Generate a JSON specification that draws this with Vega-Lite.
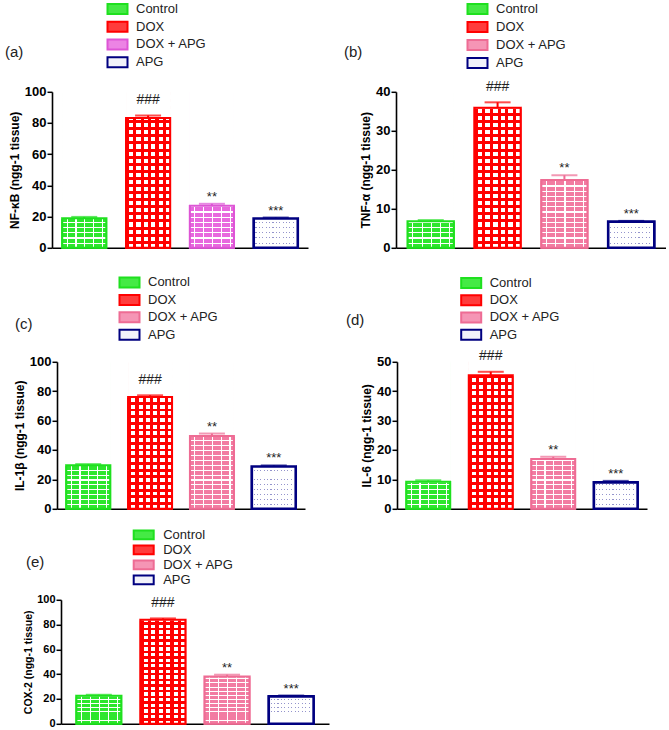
{
"$schema": "https://vega.github.io/schema/vega-lite/v6.json",
"padding": {"left": 5, "top": 1.8, "right": 0, "bottom": 0},
"background": "white",
"datasets": {
"a": [
{"group": "Control", "mean": 19.0, "upper": 19.8, "sig": ""},
{"group": "DOX", "mean": 83.2, "upper": 84.8, "sig": "###"},
{"group": "DOX + APG", "mean": 27.0, "upper": 28.2, "sig": "**"},
{"group": "APG", "mean": 18.8, "upper": 19.4, "sig": "***"}],
"b": [
{"group": "Control", "mean": 6.8, "upper": 7.1, "sig": ""},
{"group": "DOX", "mean": 35.9, "upper": 37.3, "sig": "###"},
{"group": "DOX + APG", "mean": 17.4, "upper": 18.6, "sig": "**"},
{"group": "APG", "mean": 6.7, "upper": 6.9, "sig": "***"}],
"c": [
{"group": "Control", "mean": 29.7, "upper": 30.4, "sig": ""},
{"group": "DOX", "mean": 76.0, "upper": 77.2, "sig": "###"},
{"group": "DOX + APG", "mean": 49.5, "upper": 51.2, "sig": "**"},
{"group": "APG", "mean": 28.8, "upper": 29.5, "sig": "***"}],
"d": [
{"group": "Control", "mean": 9.2, "upper": 9.7, "sig": ""},
{"group": "DOX", "mean": 45.4, "upper": 46.6, "sig": "###"},
{"group": "DOX + APG", "mean": 16.9, "upper": 17.7, "sig": "**"},
{"group": "APG", "mean": 9.0, "upper": 9.5, "sig": "***"}],
"e": [
{"group": "Control", "mean": 22.7, "upper": 23.4, "sig": ""},
{"group": "DOX", "mean": 84.0, "upper": 85.0, "sig": "###"},
{"group": "DOX + APG", "mean": 38.1, "upper": 39.6, "sig": "**"},
{"group": "APG", "mean": 22.1, "upper": 22.8, "sig": "***"}]
},
"spacing": 12,
"resolve": {"scale": {"fill": "independent", "stroke": "independent", "x": "independent", "y": "independent"}},
"vconcat": [
{
"spacing": 21,
"resolve": {"scale": {"fill": "independent", "stroke": "independent", "x": "independent", "y": "independent"}},
"vconcat": [
{
"spacing": 36,
"resolve": {"scale": {"fill": "independent", "stroke": "independent", "x": "independent", "y": "independent"}},
"hconcat": [
{
"width": 256, "height": 156,
"data": {"name": "a"},
"title": {"text": "(a)", "dx": -47, "dy": 61.9},
"encoding": {"x": {"field": "group", "type": "nominal", "sort": null, "scale": {"paddingInner": 0.31, "paddingOuter": 0.16}, "axis": {"title": null, "labels": false, "ticks": false}}},
"layer": [
{"mark": {"type": "bar", "strokeWidth": 2},
"encoding": {
"y": {"field": "mean", "type": "quantitative", "stack": null, "scale": {"domain": [0, 100], "nice": false}, "axis": {"title": "NF-κB (ngg-1 tissue)", "values": [0, 20, 40, 60, 80, 100], "tickCount": 12, "labelOverlap": false}},
"fill": {"field": "group", "type": "nominal", "scale": {"domain": ["Control", "DOX", "DOX + APG", "APG"], "range": ["#45ea45", "#ff3c3c", "#ec84e4", "#f2f2fa"]}, "legend": {"title": null, "orient": "none", "legendX": 59, "legendY": -89.2, "direction": "vertical", "symbolType": "M-2,-1H2V1H-2Z", "symbolSize": 100, "symbolStrokeWidth": 2, "symbolOpacity": 1, "rowPadding": -1.3, "labelOffset": 12, "labelFont": "Liberation Sans", "labelFontSize": 13, "labelColor": "#222", "padding": 0}},
"stroke": {"field": "group", "type": "nominal", "scale": {"domain": ["Control", "DOX", "DOX + APG", "APG"], "range": ["#1fe01f", "#ff0000", "#dd55d5", "#000080"]}, "legend": {"title": null, "orient": "none", "legendX": 59, "legendY": -89.2, "direction": "vertical", "symbolType": "M-2,-1H2V1H-2Z", "symbolSize": 100, "symbolStrokeWidth": 2, "symbolOpacity": 1, "rowPadding": -1.3, "labelOffset": 12, "labelFont": "Liberation Sans", "labelFontSize": 13, "labelColor": "#222", "padding": 0}}
}},
{"mark": {"type": "bar"}, "encoding": {"y": {"datum": 100, "type": "quantitative"}, "y2": {"datum": 0}, "fill": {"condition": [{"test": "datum.group==='Control'", "value": "#2ee62e"}, {"test": "datum.group==='DOX'", "value": "#ffffff"}, {"test": "datum.group==='DOX + APG'", "value": "#e868de"}], "value": "#9494cc"}}},
{"transform": [{"filter": "datum.group==='Control' || datum.group==='DOX + APG'"}], "mark": {"type": "bar", "fill": {"id": "hwgrad", "gradient": "linear", "x1": 0, "y1": 0, "x2": 0, "y2": 1, "stops": [
{"offset":0,"color":"#fff"},{"offset":0.0075,"color":"#fff"},{"offset":0.0075,"color":"transparent"},{"offset":0.0333,"color":"transparent"},
{"offset":0.0333,"color":"#fff"},{"offset":0.0408,"color":"#fff"},{"offset":0.0408,"color":"transparent"},{"offset":0.0667,"color":"transparent"},
{"offset":0.0667,"color":"#fff"},{"offset":0.0742,"color":"#fff"},{"offset":0.0742,"color":"transparent"},{"offset":0.1,"color":"transparent"},
{"offset":0.1,"color":"#fff"},{"offset":0.1075,"color":"#fff"},{"offset":0.1075,"color":"transparent"},{"offset":0.1333,"color":"transparent"},
{"offset":0.1333,"color":"#fff"},{"offset":0.1408,"color":"#fff"},{"offset":0.1408,"color":"transparent"},{"offset":0.1667,"color":"transparent"},
{"offset":0.1667,"color":"#fff"},{"offset":0.1742,"color":"#fff"},{"offset":0.1742,"color":"transparent"},{"offset":0.2,"color":"transparent"},
{"offset":0.2,"color":"#fff"},{"offset":0.2075,"color":"#fff"},{"offset":0.2075,"color":"transparent"},{"offset":0.2333,"color":"transparent"},
{"offset":0.2333,"color":"#fff"},{"offset":0.2408,"color":"#fff"},{"offset":0.2408,"color":"transparent"},{"offset":0.2667,"color":"transparent"},
{"offset":0.2667,"color":"#fff"},{"offset":0.2742,"color":"#fff"},{"offset":0.2742,"color":"transparent"},{"offset":0.3,"color":"transparent"},
{"offset":0.3,"color":"#fff"},{"offset":0.3075,"color":"#fff"},{"offset":0.3075,"color":"transparent"},{"offset":0.3333,"color":"transparent"},
{"offset":0.3333,"color":"#fff"},{"offset":0.3408,"color":"#fff"},{"offset":0.3408,"color":"transparent"},{"offset":0.3667,"color":"transparent"},
{"offset":0.3667,"color":"#fff"},{"offset":0.3742,"color":"#fff"},{"offset":0.3742,"color":"transparent"},{"offset":0.4,"color":"transparent"},
{"offset":0.4,"color":"#fff"},{"offset":0.4075,"color":"#fff"},{"offset":0.4075,"color":"transparent"},{"offset":0.4333,"color":"transparent"},
{"offset":0.4333,"color":"#fff"},{"offset":0.4408,"color":"#fff"},{"offset":0.4408,"color":"transparent"},{"offset":0.4667,"color":"transparent"},
{"offset":0.4667,"color":"#fff"},{"offset":0.4742,"color":"#fff"},{"offset":0.4742,"color":"transparent"},{"offset":0.5,"color":"transparent"},
{"offset":0.5,"color":"#fff"},{"offset":0.5075,"color":"#fff"},{"offset":0.5075,"color":"transparent"},{"offset":0.5333,"color":"transparent"},
{"offset":0.5333,"color":"#fff"},{"offset":0.5408,"color":"#fff"},{"offset":0.5408,"color":"transparent"},{"offset":0.5667,"color":"transparent"},
{"offset":0.5667,"color":"#fff"},{"offset":0.5742,"color":"#fff"},{"offset":0.5742,"color":"transparent"},{"offset":0.6,"color":"transparent"},
{"offset":0.6,"color":"#fff"},{"offset":0.6075,"color":"#fff"},{"offset":0.6075,"color":"transparent"},{"offset":0.6333,"color":"transparent"},
{"offset":0.6333,"color":"#fff"},{"offset":0.6408,"color":"#fff"},{"offset":0.6408,"color":"transparent"},{"offset":0.6667,"color":"transparent"},
{"offset":0.6667,"color":"#fff"},{"offset":0.6742,"color":"#fff"},{"offset":0.6742,"color":"transparent"},{"offset":0.7,"color":"transparent"},
{"offset":0.7,"color":"#fff"},{"offset":0.7075,"color":"#fff"},{"offset":0.7075,"color":"transparent"},{"offset":0.7333,"color":"transparent"},
{"offset":0.7333,"color":"#fff"},{"offset":0.7408,"color":"#fff"},{"offset":0.7408,"color":"transparent"},{"offset":0.7667,"color":"transparent"},
{"offset":0.7667,"color":"#fff"},{"offset":0.7742,"color":"#fff"},{"offset":0.7742,"color":"transparent"},{"offset":0.8,"color":"transparent"},
{"offset":0.8,"color":"#fff"},{"offset":0.8075,"color":"#fff"},{"offset":0.8075,"color":"transparent"},{"offset":0.8333,"color":"transparent"},
{"offset":0.8333,"color":"#fff"},{"offset":0.8408,"color":"#fff"},{"offset":0.8408,"color":"transparent"},{"offset":0.8667,"color":"transparent"},
{"offset":0.8667,"color":"#fff"},{"offset":0.8742,"color":"#fff"},{"offset":0.8742,"color":"transparent"},{"offset":0.9,"color":"transparent"},
{"offset":0.9,"color":"#fff"},{"offset":0.9075,"color":"#fff"},{"offset":0.9075,"color":"transparent"},{"offset":0.9333,"color":"transparent"},
{"offset":0.9333,"color":"#fff"},{"offset":0.9408,"color":"#fff"},{"offset":0.9408,"color":"transparent"},{"offset":0.9667,"color":"transparent"},
{"offset":0.9667,"color":"#fff"},{"offset":0.9742,"color":"#fff"},{"offset":0.9742,"color":"transparent"}
]}}, "encoding": {"y": {"datum": 100, "type": "quantitative"}, "y2": {"datum": 0}}},
{"transform": [{"filter": "datum.group==='Control' || datum.group==='DOX + APG'"}], "mark": {"type": "bar", "fill": {"id": "vwgrad", "gradient": "linear", "x1": 0, "y1": 0, "x2": 1, "y2": 0, "stops": [
{"offset":0,"color":"transparent"},{"offset":0.1,"color":"transparent"},{"offset":0.1,"color":"#fff"},{"offset":0.125,"color":"#fff"},{"offset":0.125,"color":"transparent"},
{"offset":0.3,"color":"transparent"},{"offset":0.3,"color":"#fff"},{"offset":0.325,"color":"#fff"},{"offset":0.325,"color":"transparent"},
{"offset":0.5,"color":"transparent"},{"offset":0.5,"color":"#fff"},{"offset":0.525,"color":"#fff"},{"offset":0.525,"color":"transparent"},
{"offset":0.7,"color":"transparent"},{"offset":0.7,"color":"#fff"},{"offset":0.725,"color":"#fff"},{"offset":0.725,"color":"transparent"},
{"offset":0.9,"color":"transparent"},{"offset":0.9,"color":"#fff"},{"offset":0.925,"color":"#fff"},{"offset":0.925,"color":"transparent"}
]}}, "encoding": {"y": {"datum": 100, "type": "quantitative"}, "y2": {"datum": 0}}},
{"transform": [{"filter": "datum.group==='DOX'"}], "mark": {"type": "bar", "fill": {"id": "hrgrad", "gradient": "linear", "x1": 0, "y1": 0, "x2": 0, "y2": 1, "stops": [
{"offset":0,"color":"#f00"},{"offset":0.0191,"color":"#f00"},{"offset":0.0191,"color":"transparent"},{"offset":0.0455,"color":"transparent"},
{"offset":0.0455,"color":"#f00"},{"offset":0.0646,"color":"#f00"},{"offset":0.0646,"color":"transparent"},{"offset":0.0909,"color":"transparent"},
{"offset":0.0909,"color":"#f00"},{"offset":0.11,"color":"#f00"},{"offset":0.11,"color":"transparent"},{"offset":0.1364,"color":"transparent"},
{"offset":0.1364,"color":"#f00"},{"offset":0.1555,"color":"#f00"},{"offset":0.1555,"color":"transparent"},{"offset":0.1818,"color":"transparent"},
{"offset":0.1818,"color":"#f00"},{"offset":0.2009,"color":"#f00"},{"offset":0.2009,"color":"transparent"},{"offset":0.2273,"color":"transparent"},
{"offset":0.2273,"color":"#f00"},{"offset":0.2464,"color":"#f00"},{"offset":0.2464,"color":"transparent"},{"offset":0.2727,"color":"transparent"},
{"offset":0.2727,"color":"#f00"},{"offset":0.2918,"color":"#f00"},{"offset":0.2918,"color":"transparent"},{"offset":0.3182,"color":"transparent"},
{"offset":0.3182,"color":"#f00"},{"offset":0.3373,"color":"#f00"},{"offset":0.3373,"color":"transparent"},{"offset":0.3636,"color":"transparent"},
{"offset":0.3636,"color":"#f00"},{"offset":0.3827,"color":"#f00"},{"offset":0.3827,"color":"transparent"},{"offset":0.4091,"color":"transparent"},
{"offset":0.4091,"color":"#f00"},{"offset":0.4282,"color":"#f00"},{"offset":0.4282,"color":"transparent"},{"offset":0.4545,"color":"transparent"},
{"offset":0.4545,"color":"#f00"},{"offset":0.4736,"color":"#f00"},{"offset":0.4736,"color":"transparent"},{"offset":0.5,"color":"transparent"},
{"offset":0.5,"color":"#f00"},{"offset":0.5191,"color":"#f00"},{"offset":0.5191,"color":"transparent"},{"offset":0.5455,"color":"transparent"},
{"offset":0.5455,"color":"#f00"},{"offset":0.5646,"color":"#f00"},{"offset":0.5646,"color":"transparent"},{"offset":0.5909,"color":"transparent"},
{"offset":0.5909,"color":"#f00"},{"offset":0.61,"color":"#f00"},{"offset":0.61,"color":"transparent"},{"offset":0.6364,"color":"transparent"},
{"offset":0.6364,"color":"#f00"},{"offset":0.6555,"color":"#f00"},{"offset":0.6555,"color":"transparent"},{"offset":0.6818,"color":"transparent"},
{"offset":0.6818,"color":"#f00"},{"offset":0.7009,"color":"#f00"},{"offset":0.7009,"color":"transparent"},{"offset":0.7273,"color":"transparent"},
{"offset":0.7273,"color":"#f00"},{"offset":0.7464,"color":"#f00"},{"offset":0.7464,"color":"transparent"},{"offset":0.7727,"color":"transparent"},
{"offset":0.7727,"color":"#f00"},{"offset":0.7918,"color":"#f00"},{"offset":0.7918,"color":"transparent"},{"offset":0.8182,"color":"transparent"},
{"offset":0.8182,"color":"#f00"},{"offset":0.8373,"color":"#f00"},{"offset":0.8373,"color":"transparent"},{"offset":0.8636,"color":"transparent"},
{"offset":0.8636,"color":"#f00"},{"offset":0.8827,"color":"#f00"},{"offset":0.8827,"color":"transparent"},{"offset":0.9091,"color":"transparent"},
{"offset":0.9091,"color":"#f00"},{"offset":0.9282,"color":"#f00"},{"offset":0.9282,"color":"transparent"},{"offset":0.9545,"color":"transparent"},
{"offset":0.9545,"color":"#f00"},{"offset":0.9736,"color":"#f00"},{"offset":0.9736,"color":"transparent"}
]}}, "encoding": {"y": {"datum": 100, "type": "quantitative"}, "y2": {"datum": 0}}},
{"transform": [{"filter": "datum.group==='DOX'"}], "mark": {"type": "bar", "fill": {"id": "vrgrad", "gradient": "linear", "x1": 0, "y1": 0, "x2": 1, "y2": 0, "stops": [
{"offset":0,"color":"#f00"},{"offset":0.07,"color":"#f00"},{"offset":0.07,"color":"transparent"},{"offset":0.1667,"color":"transparent"},
{"offset":0.1667,"color":"#f00"},{"offset":0.2367,"color":"#f00"},{"offset":0.2367,"color":"transparent"},{"offset":0.3333,"color":"transparent"},
{"offset":0.3333,"color":"#f00"},{"offset":0.4033,"color":"#f00"},{"offset":0.4033,"color":"transparent"},{"offset":0.5,"color":"transparent"},
{"offset":0.5,"color":"#f00"},{"offset":0.57,"color":"#f00"},{"offset":0.57,"color":"transparent"},{"offset":0.6667,"color":"transparent"},
{"offset":0.6667,"color":"#f00"},{"offset":0.7367,"color":"#f00"},{"offset":0.7367,"color":"transparent"},{"offset":0.8333,"color":"transparent"},
{"offset":0.8333,"color":"#f00"},{"offset":0.9033,"color":"#f00"},{"offset":0.9033,"color":"transparent"}
]}}, "encoding": {"y": {"datum": 100, "type": "quantitative"}, "y2": {"datum": 0}}},
{"transform": [{"filter": "datum.group==='APG'"}], "mark": {"type": "bar", "fill": {"id": "dhgrad", "gradient": "linear", "x1": 0, "y1": 0, "x2": 0, "y2": 1, "stops": [
{"offset":0,"color":"transparent"},{"offset":0.0067,"color":"transparent"},{"offset":0.0067,"color":"#fff"},{"offset":0.0333,"color":"#fff"},
{"offset":0.0333,"color":"transparent"},{"offset":0.04,"color":"transparent"},{"offset":0.04,"color":"#fff"},{"offset":0.0667,"color":"#fff"},
{"offset":0.0667,"color":"transparent"},{"offset":0.0734,"color":"transparent"},{"offset":0.0734,"color":"#fff"},{"offset":0.1,"color":"#fff"},
{"offset":0.1,"color":"transparent"},{"offset":0.1067,"color":"transparent"},{"offset":0.1067,"color":"#fff"},{"offset":0.1333,"color":"#fff"},
{"offset":0.1333,"color":"transparent"},{"offset":0.14,"color":"transparent"},{"offset":0.14,"color":"#fff"},{"offset":0.1667,"color":"#fff"},
{"offset":0.1667,"color":"transparent"},{"offset":0.1734,"color":"transparent"},{"offset":0.1734,"color":"#fff"},{"offset":0.2,"color":"#fff"},
{"offset":0.2,"color":"transparent"},{"offset":0.2067,"color":"transparent"},{"offset":0.2067,"color":"#fff"},{"offset":0.2333,"color":"#fff"},
{"offset":0.2333,"color":"transparent"},{"offset":0.24,"color":"transparent"},{"offset":0.24,"color":"#fff"},{"offset":0.2667,"color":"#fff"},
{"offset":0.2667,"color":"transparent"},{"offset":0.2734,"color":"transparent"},{"offset":0.2734,"color":"#fff"},{"offset":0.3,"color":"#fff"},
{"offset":0.3,"color":"transparent"},{"offset":0.3067,"color":"transparent"},{"offset":0.3067,"color":"#fff"},{"offset":0.3333,"color":"#fff"},
{"offset":0.3333,"color":"transparent"},{"offset":0.34,"color":"transparent"},{"offset":0.34,"color":"#fff"},{"offset":0.3667,"color":"#fff"},
{"offset":0.3667,"color":"transparent"},{"offset":0.3734,"color":"transparent"},{"offset":0.3734,"color":"#fff"},{"offset":0.4,"color":"#fff"},
{"offset":0.4,"color":"transparent"},{"offset":0.4067,"color":"transparent"},{"offset":0.4067,"color":"#fff"},{"offset":0.4333,"color":"#fff"},
{"offset":0.4333,"color":"transparent"},{"offset":0.44,"color":"transparent"},{"offset":0.44,"color":"#fff"},{"offset":0.4667,"color":"#fff"},
{"offset":0.4667,"color":"transparent"},{"offset":0.4734,"color":"transparent"},{"offset":0.4734,"color":"#fff"},{"offset":0.5,"color":"#fff"},
{"offset":0.5,"color":"transparent"},{"offset":0.5067,"color":"transparent"},{"offset":0.5067,"color":"#fff"},{"offset":0.5333,"color":"#fff"},
{"offset":0.5333,"color":"transparent"},{"offset":0.54,"color":"transparent"},{"offset":0.54,"color":"#fff"},{"offset":0.5667,"color":"#fff"},
{"offset":0.5667,"color":"transparent"},{"offset":0.5734,"color":"transparent"},{"offset":0.5734,"color":"#fff"},{"offset":0.6,"color":"#fff"},
{"offset":0.6,"color":"transparent"},{"offset":0.6067,"color":"transparent"},{"offset":0.6067,"color":"#fff"},{"offset":0.6333,"color":"#fff"},
{"offset":0.6333,"color":"transparent"},{"offset":0.64,"color":"transparent"},{"offset":0.64,"color":"#fff"},{"offset":0.6667,"color":"#fff"},
{"offset":0.6667,"color":"transparent"},{"offset":0.6734,"color":"transparent"},{"offset":0.6734,"color":"#fff"},{"offset":0.7,"color":"#fff"},
{"offset":0.7,"color":"transparent"},{"offset":0.7067,"color":"transparent"},{"offset":0.7067,"color":"#fff"},{"offset":0.7333,"color":"#fff"},
{"offset":0.7333,"color":"transparent"},{"offset":0.74,"color":"transparent"},{"offset":0.74,"color":"#fff"},{"offset":0.7667,"color":"#fff"},
{"offset":0.7667,"color":"transparent"},{"offset":0.7734,"color":"transparent"},{"offset":0.7734,"color":"#fff"},{"offset":0.8,"color":"#fff"},
{"offset":0.8,"color":"transparent"},{"offset":0.8067,"color":"transparent"},{"offset":0.8067,"color":"#fff"},{"offset":0.8333,"color":"#fff"},
{"offset":0.8333,"color":"transparent"},{"offset":0.84,"color":"transparent"},{"offset":0.84,"color":"#fff"},{"offset":0.8667,"color":"#fff"},
{"offset":0.8667,"color":"transparent"},{"offset":0.8734,"color":"transparent"},{"offset":0.8734,"color":"#fff"},{"offset":0.9,"color":"#fff"},
{"offset":0.9,"color":"transparent"},{"offset":0.9067,"color":"transparent"},{"offset":0.9067,"color":"#fff"},{"offset":0.9333,"color":"#fff"},
{"offset":0.9333,"color":"transparent"},{"offset":0.94,"color":"transparent"},{"offset":0.94,"color":"#fff"},{"offset":0.9667,"color":"#fff"},
{"offset":0.9667,"color":"transparent"},{"offset":0.9734,"color":"transparent"},{"offset":0.9734,"color":"#fff"},{"offset":1,"color":"#fff"}
]}}, "encoding": {"y": {"datum": 100, "type": "quantitative"}, "y2": {"datum": 0}}},
{"transform": [{"filter": "datum.group==='APG'"}], "mark": {"type": "bar", "fill": {"id": "dvgrad", "gradient": "linear", "x1": 0, "y1": 0, "x2": 1, "y2": 0, "stops": [
{"offset":0,"color":"#fff"},{"offset":0.04,"color":"#fff"},{"offset":0.04,"color":"transparent"},{"offset":0.065,"color":"transparent"},
{"offset":0.065,"color":"#fff"},{"offset":0.1169,"color":"#fff"},{"offset":0.1169,"color":"transparent"},{"offset":0.1419,"color":"transparent"},
{"offset":0.1419,"color":"#fff"},{"offset":0.1938,"color":"#fff"},{"offset":0.1938,"color":"transparent"},{"offset":0.2188,"color":"transparent"},
{"offset":0.2188,"color":"#fff"},{"offset":0.2708,"color":"#fff"},{"offset":0.2708,"color":"transparent"},{"offset":0.2958,"color":"transparent"},
{"offset":0.2958,"color":"#fff"},{"offset":0.3477,"color":"#fff"},{"offset":0.3477,"color":"transparent"},{"offset":0.3727,"color":"transparent"},
{"offset":0.3727,"color":"#fff"},{"offset":0.4246,"color":"#fff"},{"offset":0.4246,"color":"transparent"},{"offset":0.4496,"color":"transparent"},
{"offset":0.4496,"color":"#fff"},{"offset":0.5015,"color":"#fff"},{"offset":0.5015,"color":"transparent"},{"offset":0.5265,"color":"transparent"},
{"offset":0.5265,"color":"#fff"},{"offset":0.5785,"color":"#fff"},{"offset":0.5785,"color":"transparent"},{"offset":0.6035,"color":"transparent"},
{"offset":0.6035,"color":"#fff"},{"offset":0.6554,"color":"#fff"},{"offset":0.6554,"color":"transparent"},{"offset":0.6804,"color":"transparent"},
{"offset":0.6804,"color":"#fff"},{"offset":0.7323,"color":"#fff"},{"offset":0.7323,"color":"transparent"},{"offset":0.7573,"color":"transparent"},
{"offset":0.7573,"color":"#fff"},{"offset":0.8092,"color":"#fff"},{"offset":0.8092,"color":"transparent"},{"offset":0.8342,"color":"transparent"},
{"offset":0.8342,"color":"#fff"},{"offset":0.8862,"color":"#fff"},{"offset":0.8862,"color":"transparent"},{"offset":0.9112,"color":"transparent"},
{"offset":0.9112,"color":"#fff"},{"offset":1,"color":"#fff"}
]}}, "encoding": {"y": {"datum": 100, "type": "quantitative"}, "y2": {"datum": 0}}},
{"mark": {"type": "bar", "fill": "#ffffff", "stroke": "#ffffff", "strokeWidth": 1.5}, "encoding": {"y": {"field": "mean", "type": "quantitative"}, "y2": {"datum": 100}}},
{"mark": {"type": "bar", "fill": "transparent"}, "encoding": {"y": {"field": "mean", "type": "quantitative"}, "strokeWidth": {"condition": {"test": "datum.group==='APG'", "value": 2.6}, "value": 2}, "stroke": {"condition": [{"test": "datum.group==='Control'", "value": "#1fe01f"}, {"test": "datum.group==='DOX'", "value": "#ff0000"}, {"test": "datum.group==='DOX + APG'", "value": "#dd55d5"}], "value": "#000080"}}},
{"mark": {"type": "rule", "strokeWidth": 2}, "encoding": {"y": {"field": "mean", "type": "quantitative"}, "y2": {"field": "upper"}, "color": {"condition": [{"test": "datum.group==='Control'", "value": "#1fe01f"}, {"test": "datum.group==='DOX'", "value": "#ff0000"}, {"test": "datum.group==='DOX + APG'", "value": "#dd55d5"}], "value": "#000080"}}},
{"mark": {"type": "tick", "size": 26, "thickness": 2}, "encoding": {"y": {"field": "upper", "type": "quantitative"}, "color": {"condition": [{"test": "datum.group==='Control'", "value": "#1fe01f"}, {"test": "datum.group==='DOX'", "value": "#ff0000"}, {"test": "datum.group==='DOX + APG'", "value": "#dd55d5"}], "value": "#000080"}}},
{"transform": [{"filter": "datum.group==='DOX'"}], "mark": {"type": "text", "font": "Liberation Sans", "fontSize": 14, "color": "#222", "baseline": "alphabetic", "dy": -11.5}, "encoding": {"y": {"field": "upper", "type": "quantitative"}, "text": {"field": "sig"}}},
{"transform": [{"filter": "datum.group!=='DOX'"}], "mark": {"type": "text", "font": "Liberation Sans", "fontSize": 13, "color": "#222", "baseline": "alphabetic", "dy": -3}, "encoding": {"y": {"field": "upper", "type": "quantitative"}, "text": {"field": "sig"}}}
]
},
{
"width": 270, "height": 156,
"data": {"name": "b"},
"title": {"text": "(b)", "dx": -52, "dy": 61.2},
"encoding": {"x": {"field": "group", "type": "nominal", "sort": null, "scale": {"paddingInner": 0.31, "paddingOuter": 0.175}, "axis": {"title": null, "labels": false, "ticks": false}}},
"layer": [
{"mark": {"type": "bar", "strokeWidth": 2},
"encoding": {
"y": {"field": "mean", "type": "quantitative", "stack": null, "scale": {"domain": [0, 40], "nice": false}, "axis": {"title": "TNF-α (ngg-1 tissue)", "values": [0, 10, 20, 30, 40], "tickCount": 12, "labelOverlap": false}},
"fill": {"field": "group", "type": "nominal", "scale": {"domain": ["Control", "DOX", "DOX + APG", "APG"], "range": ["#45ea45", "#ff3c3c", "#f595b5", "#f2f2fa"]}, "legend": {"title": null, "orient": "none", "legendX": 75, "legendY": -89.2, "direction": "vertical", "symbolType": "M-2,-1H2V1H-2Z", "symbolSize": 100, "symbolStrokeWidth": 2, "symbolOpacity": 1, "rowPadding": -1.0, "labelOffset": 12, "labelFont": "Liberation Sans", "labelFontSize": 13, "labelColor": "#222", "padding": 0}},
"stroke": {"field": "group", "type": "nominal", "scale": {"domain": ["Control", "DOX", "DOX + APG", "APG"], "range": ["#1fe01f", "#ff0000", "#ee6c94", "#000080"]}, "legend": {"title": null, "orient": "none", "legendX": 75, "legendY": -89.2, "direction": "vertical", "symbolType": "M-2,-1H2V1H-2Z", "symbolSize": 100, "symbolStrokeWidth": 2, "symbolOpacity": 1, "rowPadding": -1.0, "labelOffset": 12, "labelFont": "Liberation Sans", "labelFontSize": 13, "labelColor": "#222", "padding": 0}}
}},
{"mark": {"type": "bar"}, "encoding": {"y": {"datum": 40, "type": "quantitative"}, "y2": {"datum": 0}, "fill": {"condition": [{"test": "datum.group==='Control'", "value": "#2ee62e"}, {"test": "datum.group==='DOX'", "value": "#ffffff"}, {"test": "datum.group==='DOX + APG'", "value": "#f27ca2"}], "value": "#9494cc"}}},
{"transform": [{"filter": "datum.group==='Control' || datum.group==='DOX + APG'"}], "mark": {"type": "bar", "fill": "url(#hwgrad)"}, "encoding": {"y": {"datum": 40, "type": "quantitative"}, "y2": {"datum": 0}}},
{"transform": [{"filter": "datum.group==='Control' || datum.group==='DOX + APG'"}], "mark": {"type": "bar", "fill": "url(#vwgrad)"}, "encoding": {"y": {"datum": 40, "type": "quantitative"}, "y2": {"datum": 0}}},
{"transform": [{"filter": "datum.group==='DOX'"}], "mark": {"type": "bar", "fill": "url(#hrgrad)"}, "encoding": {"y": {"datum": 40, "type": "quantitative"}, "y2": {"datum": 0}}},
{"transform": [{"filter": "datum.group==='DOX'"}], "mark": {"type": "bar", "fill": "url(#vrgrad)"}, "encoding": {"y": {"datum": 40, "type": "quantitative"}, "y2": {"datum": 0}}},
{"transform": [{"filter": "datum.group==='APG'"}], "mark": {"type": "bar", "fill": "url(#dhgrad)"}, "encoding": {"y": {"datum": 40, "type": "quantitative"}, "y2": {"datum": 0}}},
{"transform": [{"filter": "datum.group==='APG'"}], "mark": {"type": "bar", "fill": "url(#dvgrad)"}, "encoding": {"y": {"datum": 40, "type": "quantitative"}, "y2": {"datum": 0}}},
{"mark": {"type": "bar", "fill": "#ffffff", "stroke": "#ffffff", "strokeWidth": 1.5}, "encoding": {"y": {"field": "mean", "type": "quantitative"}, "y2": {"datum": 40}}},
{"mark": {"type": "bar", "fill": "transparent"}, "encoding": {"y": {"field": "mean", "type": "quantitative"}, "strokeWidth": {"condition": {"test": "datum.group==='APG'", "value": 2.6}, "value": 2}, "stroke": {"condition": [{"test": "datum.group==='Control'", "value": "#1fe01f"}, {"test": "datum.group==='DOX'", "value": "#ff0000"}, {"test": "datum.group==='DOX + APG'", "value": "#ee6c94"}], "value": "#000080"}}},
{"mark": {"type": "rule", "strokeWidth": 2}, "encoding": {"y": {"field": "mean", "type": "quantitative"}, "y2": {"field": "upper"}, "color": {"condition": [{"test": "datum.group==='Control'", "value": "#1fe01f"}, {"test": "datum.group==='DOX'", "value": "#ff0000"}, {"test": "datum.group==='DOX + APG'", "value": "#ee6c94"}], "value": "#000080"}}},
{"mark": {"type": "tick", "size": 26, "thickness": 2}, "encoding": {"y": {"field": "upper", "type": "quantitative"}, "color": {"condition": [{"test": "datum.group==='Control'", "value": "#1fe01f"}, {"test": "datum.group==='DOX'", "value": "#ff0000"}, {"test": "datum.group==='DOX + APG'", "value": "#ee6c94"}], "value": "#000080"}}},
{"transform": [{"filter": "datum.group==='DOX'"}], "mark": {"type": "text", "font": "Liberation Sans", "fontSize": 14, "color": "#222", "baseline": "alphabetic", "dy": -11.5}, "encoding": {"y": {"field": "upper", "type": "quantitative"}, "text": {"field": "sig"}}},
{"transform": [{"filter": "datum.group!=='DOX'"}], "mark": {"type": "text", "font": "Liberation Sans", "fontSize": 13, "color": "#222", "baseline": "alphabetic", "dy": -3}, "encoding": {"y": {"field": "upper", "type": "quantitative"}, "text": {"field": "sig"}}}
]
}
]
},
{
"spacing": -40,
"resolve": {"scale": {"fill": "independent", "stroke": "independent", "x": "independent", "y": "independent"}},
"hconcat": [
{"width": 1, "height": 1, "data": {"values": []}, "mark": "point"},
{
"spacing": 41,
"resolve": {"scale": {"fill": "independent", "stroke": "independent", "x": "independent", "y": "independent"}},
"hconcat": [
{
"width": 248, "height": 147,
"data": {"name": "c"},
"title": {"text": "(c)", "dx": -42, "dy": 59.8},
"encoding": {"x": {"field": "group", "type": "nominal", "sort": null, "scale": {"paddingInner": 0.29, "paddingOuter": 0.15}, "axis": {"title": null, "labels": false, "ticks": false}}},
"layer": [
{"mark": {"type": "bar", "strokeWidth": 2},
"encoding": {
"y": {"field": "mean", "type": "quantitative", "stack": null, "scale": {"domain": [0, 100], "nice": false}, "axis": {"title": "IL-1β (ngg-1 tissue)", "values": [0, 20, 40, 60, 80, 100], "tickCount": 12, "labelOverlap": false}},
"fill": {"field": "group", "type": "nominal", "scale": {"domain": ["Control", "DOX", "DOX + APG", "APG"], "range": ["#45ea45", "#ff3c3c", "#f595b5", "#f2f2fa"]}, "legend": {"title": null, "orient": "none", "legendX": 66, "legendY": -85.8, "direction": "vertical", "symbolType": "M-2,-1H2V1H-2Z", "symbolSize": 100, "symbolStrokeWidth": 2, "symbolOpacity": 1, "rowPadding": -1.6, "labelOffset": 12, "labelFont": "Liberation Sans", "labelFontSize": 13, "labelColor": "#222", "padding": 0}},
"stroke": {"field": "group", "type": "nominal", "scale": {"domain": ["Control", "DOX", "DOX + APG", "APG"], "range": ["#1fe01f", "#ff0000", "#ee6c94", "#000080"]}, "legend": {"title": null, "orient": "none", "legendX": 66, "legendY": -85.8, "direction": "vertical", "symbolType": "M-2,-1H2V1H-2Z", "symbolSize": 100, "symbolStrokeWidth": 2, "symbolOpacity": 1, "rowPadding": -1.6, "labelOffset": 12, "labelFont": "Liberation Sans", "labelFontSize": 13, "labelColor": "#222", "padding": 0}}
}},
{"mark": {"type": "bar"}, "encoding": {"y": {"datum": 100, "type": "quantitative"}, "y2": {"datum": 0}, "fill": {"condition": [{"test": "datum.group==='Control'", "value": "#2ee62e"}, {"test": "datum.group==='DOX'", "value": "#ffffff"}, {"test": "datum.group==='DOX + APG'", "value": "#f27ca2"}], "value": "#9494cc"}}},
{"transform": [{"filter": "datum.group==='Control' || datum.group==='DOX + APG'"}], "mark": {"type": "bar", "fill": "url(#hwgrad)"}, "encoding": {"y": {"datum": 100, "type": "quantitative"}, "y2": {"datum": 0}}},
{"transform": [{"filter": "datum.group==='Control' || datum.group==='DOX + APG'"}], "mark": {"type": "bar", "fill": "url(#vwgrad)"}, "encoding": {"y": {"datum": 100, "type": "quantitative"}, "y2": {"datum": 0}}},
{"transform": [{"filter": "datum.group==='DOX'"}], "mark": {"type": "bar", "fill": "url(#hrgrad)"}, "encoding": {"y": {"datum": 100, "type": "quantitative"}, "y2": {"datum": 0}}},
{"transform": [{"filter": "datum.group==='DOX'"}], "mark": {"type": "bar", "fill": "url(#vrgrad)"}, "encoding": {"y": {"datum": 100, "type": "quantitative"}, "y2": {"datum": 0}}},
{"transform": [{"filter": "datum.group==='APG'"}], "mark": {"type": "bar", "fill": "url(#dhgrad)"}, "encoding": {"y": {"datum": 100, "type": "quantitative"}, "y2": {"datum": 0}}},
{"transform": [{"filter": "datum.group==='APG'"}], "mark": {"type": "bar", "fill": "url(#dvgrad)"}, "encoding": {"y": {"datum": 100, "type": "quantitative"}, "y2": {"datum": 0}}},
{"mark": {"type": "bar", "fill": "#ffffff", "stroke": "#ffffff", "strokeWidth": 1.5}, "encoding": {"y": {"field": "mean", "type": "quantitative"}, "y2": {"datum": 100}}},
{"mark": {"type": "bar", "fill": "transparent"}, "encoding": {"y": {"field": "mean", "type": "quantitative"}, "strokeWidth": {"condition": {"test": "datum.group==='APG'", "value": 2.6}, "value": 2}, "stroke": {"condition": [{"test": "datum.group==='Control'", "value": "#1fe01f"}, {"test": "datum.group==='DOX'", "value": "#ff0000"}, {"test": "datum.group==='DOX + APG'", "value": "#ee6c94"}], "value": "#000080"}}},
{"mark": {"type": "rule", "strokeWidth": 2}, "encoding": {"y": {"field": "mean", "type": "quantitative"}, "y2": {"field": "upper"}, "color": {"condition": [{"test": "datum.group==='Control'", "value": "#1fe01f"}, {"test": "datum.group==='DOX'", "value": "#ff0000"}, {"test": "datum.group==='DOX + APG'", "value": "#ee6c94"}], "value": "#000080"}}},
{"mark": {"type": "tick", "size": 26, "thickness": 2}, "encoding": {"y": {"field": "upper", "type": "quantitative"}, "color": {"condition": [{"test": "datum.group==='Control'", "value": "#1fe01f"}, {"test": "datum.group==='DOX'", "value": "#ff0000"}, {"test": "datum.group==='DOX + APG'", "value": "#ee6c94"}], "value": "#000080"}}},
{"transform": [{"filter": "datum.group==='DOX'"}], "mark": {"type": "text", "font": "Liberation Sans", "fontSize": 14, "color": "#222", "baseline": "alphabetic", "dy": -11.5}, "encoding": {"y": {"field": "upper", "type": "quantitative"}, "text": {"field": "sig"}}},
{"transform": [{"filter": "datum.group!=='DOX'"}], "mark": {"type": "text", "font": "Liberation Sans", "fontSize": 13, "color": "#222", "baseline": "alphabetic", "dy": -3}, "encoding": {"y": {"field": "upper", "type": "quantitative"}, "text": {"field": "sig"}}}
]
},
{
"width": 250, "height": 147,
"data": {"name": "d"},
"title": {"text": "(d)", "dx": -51, "dy": 55.9},
"encoding": {"x": {"field": "group", "type": "nominal", "sort": null, "scale": {"paddingInner": 0.3, "paddingOuter": 0.15}, "axis": {"title": null, "labels": false, "ticks": false}}},
"layer": [
{"mark": {"type": "bar", "strokeWidth": 2},
"encoding": {
"y": {"field": "mean", "type": "quantitative", "stack": null, "scale": {"domain": [0, 50], "nice": false}, "axis": {"title": "IL-6 (ngg-1 tissue)", "values": [0, 10, 20, 30, 40, 50], "tickCount": 12, "labelOverlap": false}},
"fill": {"field": "group", "type": "nominal", "scale": {"domain": ["Control", "DOX", "DOX + APG", "APG"], "range": ["#45ea45", "#ff3c3c", "#f595b5", "#f2f2fa"]}, "legend": {"title": null, "orient": "none", "legendX": 67.7, "legendY": -85.2, "direction": "vertical", "symbolType": "M-2,-1H2V1H-2Z", "symbolSize": 100, "symbolStrokeWidth": 2, "symbolOpacity": 1, "rowPadding": -1.8, "labelOffset": 12, "labelFont": "Liberation Sans", "labelFontSize": 13, "labelColor": "#222", "padding": 0}},
"stroke": {"field": "group", "type": "nominal", "scale": {"domain": ["Control", "DOX", "DOX + APG", "APG"], "range": ["#1fe01f", "#ff0000", "#ee6c94", "#000080"]}, "legend": {"title": null, "orient": "none", "legendX": 67.7, "legendY": -85.2, "direction": "vertical", "symbolType": "M-2,-1H2V1H-2Z", "symbolSize": 100, "symbolStrokeWidth": 2, "symbolOpacity": 1, "rowPadding": -1.8, "labelOffset": 12, "labelFont": "Liberation Sans", "labelFontSize": 13, "labelColor": "#222", "padding": 0}}
}},
{"mark": {"type": "bar"}, "encoding": {"y": {"datum": 50, "type": "quantitative"}, "y2": {"datum": 0}, "fill": {"condition": [{"test": "datum.group==='Control'", "value": "#2ee62e"}, {"test": "datum.group==='DOX'", "value": "#ffffff"}, {"test": "datum.group==='DOX + APG'", "value": "#f27ca2"}], "value": "#9494cc"}}},
{"transform": [{"filter": "datum.group==='Control' || datum.group==='DOX + APG'"}], "mark": {"type": "bar", "fill": "url(#hwgrad)"}, "encoding": {"y": {"datum": 50, "type": "quantitative"}, "y2": {"datum": 0}}},
{"transform": [{"filter": "datum.group==='Control' || datum.group==='DOX + APG'"}], "mark": {"type": "bar", "fill": "url(#vwgrad)"}, "encoding": {"y": {"datum": 50, "type": "quantitative"}, "y2": {"datum": 0}}},
{"transform": [{"filter": "datum.group==='DOX'"}], "mark": {"type": "bar", "fill": "url(#hrgrad)"}, "encoding": {"y": {"datum": 50, "type": "quantitative"}, "y2": {"datum": 0}}},
{"transform": [{"filter": "datum.group==='DOX'"}], "mark": {"type": "bar", "fill": "url(#vrgrad)"}, "encoding": {"y": {"datum": 50, "type": "quantitative"}, "y2": {"datum": 0}}},
{"transform": [{"filter": "datum.group==='APG'"}], "mark": {"type": "bar", "fill": "url(#dhgrad)"}, "encoding": {"y": {"datum": 50, "type": "quantitative"}, "y2": {"datum": 0}}},
{"transform": [{"filter": "datum.group==='APG'"}], "mark": {"type": "bar", "fill": "url(#dvgrad)"}, "encoding": {"y": {"datum": 50, "type": "quantitative"}, "y2": {"datum": 0}}},
{"mark": {"type": "bar", "fill": "#ffffff", "stroke": "#ffffff", "strokeWidth": 1.5}, "encoding": {"y": {"field": "mean", "type": "quantitative"}, "y2": {"datum": 50}}},
{"mark": {"type": "bar", "fill": "transparent"}, "encoding": {"y": {"field": "mean", "type": "quantitative"}, "strokeWidth": {"condition": {"test": "datum.group==='APG'", "value": 2.6}, "value": 2}, "stroke": {"condition": [{"test": "datum.group==='Control'", "value": "#1fe01f"}, {"test": "datum.group==='DOX'", "value": "#ff0000"}, {"test": "datum.group==='DOX + APG'", "value": "#ee6c94"}], "value": "#000080"}}},
{"mark": {"type": "rule", "strokeWidth": 2}, "encoding": {"y": {"field": "mean", "type": "quantitative"}, "y2": {"field": "upper"}, "color": {"condition": [{"test": "datum.group==='Control'", "value": "#1fe01f"}, {"test": "datum.group==='DOX'", "value": "#ff0000"}, {"test": "datum.group==='DOX + APG'", "value": "#ee6c94"}], "value": "#000080"}}},
{"mark": {"type": "tick", "size": 26, "thickness": 2}, "encoding": {"y": {"field": "upper", "type": "quantitative"}, "color": {"condition": [{"test": "datum.group==='Control'", "value": "#1fe01f"}, {"test": "datum.group==='DOX'", "value": "#ff0000"}, {"test": "datum.group==='DOX + APG'", "value": "#ee6c94"}], "value": "#000080"}}},
{"transform": [{"filter": "datum.group==='DOX'"}], "mark": {"type": "text", "font": "Liberation Sans", "fontSize": 14, "color": "#222", "baseline": "alphabetic", "dy": -11.5}, "encoding": {"y": {"field": "upper", "type": "quantitative"}, "text": {"field": "sig"}}},
{"transform": [{"filter": "datum.group!=='DOX'"}], "mark": {"type": "text", "font": "Liberation Sans", "fontSize": 13, "color": "#222", "baseline": "alphabetic", "dy": -3}, "encoding": {"y": {"field": "upper", "type": "quantitative"}, "text": {"field": "sig"}}}
]
}
]
}
]
}
]
},
{
"spacing": -30,
"resolve": {"scale": {"fill": "independent", "stroke": "independent", "x": "independent", "y": "independent"}},
"hconcat": [
{"width": 1, "height": 1, "data": {"values": []}, "mark": "point"},
{
"width": 268, "height": 124,
"data": {"name": "e"},
"title": {"text": "(e)", "dx": -35, "dy": 45.5},
"encoding": {"x": {"field": "group", "type": "nominal", "sort": null, "scale": {"paddingInner": 0.3, "paddingOuter": 0.24}, "axis": {"title": null, "labels": false, "ticks": false}}},
"layer": [
{"mark": {"type": "bar", "strokeWidth": 2},
"encoding": {
"y": {"field": "mean", "type": "quantitative", "stack": null, "scale": {"domain": [0, 100], "nice": false}, "axis": {"title": "COX-2 (ngg-1 tissue)", "values": [0, 20, 40, 60, 80, 100], "tickCount": 12, "labelOverlap": false, "labelFontSize": 11, "titleFontSize": 10.5}},
"fill": {"field": "group", "type": "nominal", "scale": {"domain": ["Control", "DOX", "DOX + APG", "APG"], "range": ["#45ea45", "#ff3c3c", "#f595b5", "#f2f2fa"]}, "legend": {"title": null, "orient": "none", "legendX": 76.2, "legendY": -71.5, "direction": "vertical", "symbolType": "M-2,-0.87H2V0.87H-2Z", "symbolSize": 100, "symbolStrokeWidth": 2, "symbolOpacity": 1, "rowPadding": -4.8, "labelOffset": 13, "labelFont": "Liberation Sans", "labelFontSize": 13, "labelColor": "#222", "padding": 0}},
"stroke": {"field": "group", "type": "nominal", "scale": {"domain": ["Control", "DOX", "DOX + APG", "APG"], "range": ["#1fe01f", "#ff0000", "#ee6c94", "#000080"]}, "legend": {"title": null, "orient": "none", "legendX": 76.2, "legendY": -71.5, "direction": "vertical", "symbolType": "M-2,-0.87H2V0.87H-2Z", "symbolSize": 100, "symbolStrokeWidth": 2, "symbolOpacity": 1, "rowPadding": -4.8, "labelOffset": 13, "labelFont": "Liberation Sans", "labelFontSize": 13, "labelColor": "#222", "padding": 0}}
}},
{"mark": {"type": "bar"}, "encoding": {"y": {"datum": 100, "type": "quantitative"}, "y2": {"datum": 0}, "fill": {"condition": [{"test": "datum.group==='Control'", "value": "#2ee62e"}, {"test": "datum.group==='DOX'", "value": "#ffffff"}, {"test": "datum.group==='DOX + APG'", "value": "#f27ca2"}], "value": "#9494cc"}}},
{"transform": [{"filter": "datum.group==='Control' || datum.group==='DOX + APG'"}], "mark": {"type": "bar", "fill": "url(#hwgrad)"}, "encoding": {"y": {"datum": 100, "type": "quantitative"}, "y2": {"datum": 0}}},
{"transform": [{"filter": "datum.group==='Control' || datum.group==='DOX + APG'"}], "mark": {"type": "bar", "fill": "url(#vwgrad)"}, "encoding": {"y": {"datum": 100, "type": "quantitative"}, "y2": {"datum": 0}}},
{"transform": [{"filter": "datum.group==='DOX'"}], "mark": {"type": "bar", "fill": "url(#hrgrad)"}, "encoding": {"y": {"datum": 100, "type": "quantitative"}, "y2": {"datum": 0}}},
{"transform": [{"filter": "datum.group==='DOX'"}], "mark": {"type": "bar", "fill": "url(#vrgrad)"}, "encoding": {"y": {"datum": 100, "type": "quantitative"}, "y2": {"datum": 0}}},
{"transform": [{"filter": "datum.group==='APG'"}], "mark": {"type": "bar", "fill": "url(#dhgrad)"}, "encoding": {"y": {"datum": 100, "type": "quantitative"}, "y2": {"datum": 0}}},
{"transform": [{"filter": "datum.group==='APG'"}], "mark": {"type": "bar", "fill": "url(#dvgrad)"}, "encoding": {"y": {"datum": 100, "type": "quantitative"}, "y2": {"datum": 0}}},
{"mark": {"type": "bar", "fill": "#ffffff", "stroke": "#ffffff", "strokeWidth": 1.5}, "encoding": {"y": {"field": "mean", "type": "quantitative"}, "y2": {"datum": 100}}},
{"mark": {"type": "bar", "fill": "transparent"}, "encoding": {"y": {"field": "mean", "type": "quantitative"}, "strokeWidth": {"condition": {"test": "datum.group==='APG'", "value": 2.6}, "value": 2}, "stroke": {"condition": [{"test": "datum.group==='Control'", "value": "#1fe01f"}, {"test": "datum.group==='DOX'", "value": "#ff0000"}, {"test": "datum.group==='DOX + APG'", "value": "#ee6c94"}], "value": "#000080"}}},
{"mark": {"type": "rule", "strokeWidth": 2}, "encoding": {"y": {"field": "mean", "type": "quantitative"}, "y2": {"field": "upper"}, "color": {"condition": [{"test": "datum.group==='Control'", "value": "#1fe01f"}, {"test": "datum.group==='DOX'", "value": "#ff0000"}, {"test": "datum.group==='DOX + APG'", "value": "#ee6c94"}], "value": "#000080"}}},
{"mark": {"type": "tick", "size": 26, "thickness": 2}, "encoding": {"y": {"field": "upper", "type": "quantitative"}, "color": {"condition": [{"test": "datum.group==='Control'", "value": "#1fe01f"}, {"test": "datum.group==='DOX'", "value": "#ff0000"}, {"test": "datum.group==='DOX + APG'", "value": "#ee6c94"}], "value": "#000080"}}},
{"transform": [{"filter": "datum.group==='DOX'"}], "mark": {"type": "text", "font": "Liberation Sans", "fontSize": 14, "color": "#222", "baseline": "alphabetic", "dy": -11.5}, "encoding": {"y": {"field": "upper", "type": "quantitative"}, "text": {"field": "sig"}}},
{"transform": [{"filter": "datum.group!=='DOX'"}], "mark": {"type": "text", "font": "Liberation Sans", "fontSize": 13, "color": "#222", "baseline": "alphabetic", "dy": -3}, "encoding": {"y": {"field": "upper", "type": "quantitative"}, "text": {"field": "sig"}}}
]
}
]
}
],
"config": {
"view": {"stroke": null},
"font": "Liberation Sans",
"axis": {"domainColor": "#000", "domainWidth": 1.6, "tickColor": "#000", "tickWidth": 1.5, "tickSize": 5, "labelFont": "Liberation Sans", "labelFontWeight": "bold", "labelFontSize": 13, "labelColor": "#000", "labelPadding": 1, "labelOverlap": false, "titleFont": "Liberation Sans", "titleFontWeight": "bold", "titleFontSize": 12, "titleColor": "#000", "titlePadding": 3, "grid": false},
"title": {"anchor": "start", "frame": "group", "baseline": "middle", "offset": 0, "font": "Liberation Sans", "fontSize": 15, "fontWeight": "normal", "color": "#222"}
}
}
